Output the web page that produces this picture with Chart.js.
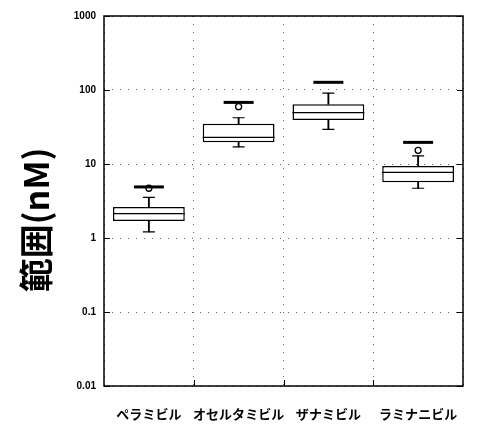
<!DOCTYPE html>
<html>
<head>
<meta charset="utf-8">
<script src="https://cdn.jsdelivr.net/npm/chart.js@4"></script>
<style>
  html, body { margin: 0; padding: 0; background: #fff; }
  #wrap { width: 484px; height: 425px; }
</style>
</head>
<body>
<div id="wrap"><canvas id="c" width="484" height="425"></canvas></div>
<script>
const categories = ['ペラミビル', 'オセルタミビル', 'ザナミビル', 'ラミナニビル'];
const whiskerLow  = [1.21, 17.0, 29.4, 4.7];
const q1          = [1.70, 19.7, 39.3, 5.66];
const median      = [2.13, 22.9, 49.4, 7.7];
const q3          = [2.62, 35.1, 64.1, 9.4];
const whiskerHigh = [3.55, 42.2, 91.0, 12.9];
const outliers    = [4.7, 59.5, null, 15.3];
const markValue   = [4.9, 68.0, 127.0, 19.6];
const yTicks      = [0.01, 0.1, 1, 10, 100, 1000];
const yTitle      = '範囲(nM)';

const boxRanges   = categories.map((_, i) => [q1[i], q3[i]]);
const lowerWhisk  = categories.map((_, i) => [whiskerLow[i], q1[i]]);
const upperWhisk  = categories.map((_, i) => [q3[i], whiskerHigh[i]]);

const frame = {
  id: 'frame',
  afterDraw(chart) {
    const { ctx, chartArea: a, scales } = chart;
    ctx.save();
    ctx.strokeStyle = '#000';
    ctx.lineWidth = 1.5;
    ctx.strokeRect(a.left, a.top, a.right - a.left, a.bottom - a.top);
    ctx.lineWidth = 1;
    const y = scales.y;
    yTicks.forEach(v => {
      const py = Math.round(y.getPixelForValue(v)) + 0.5;
      ctx.beginPath();
      ctx.moveTo(a.left, py); ctx.lineTo(a.left + 6, py);
      ctx.moveTo(a.right, py); ctx.lineTo(a.right - 6, py);
      ctx.stroke();
    });
    const x = scales.x;
    for (let i = 1; i < categories.length; i++) {
      const px = Math.round((x.getPixelForValue(i - 1) + x.getPixelForValue(i)) / 2) + 0.5;
      ctx.beginPath();
      ctx.moveTo(px, a.bottom); ctx.lineTo(px, a.bottom - 6);
      ctx.stroke();
    }
    // y axis title
    ctx.translate(36, (a.top + a.bottom) / 2 + 19);
    ctx.rotate(-Math.PI / 2);
    ctx.fillStyle = '#000';
    ctx.font = 'bold 34px "Noto Sans CJK JP"';
    ctx.textAlign = 'center';
    ctx.textBaseline = 'middle';
    ctx.fillText(yTitle, 0, 0);
    ctx.restore();
  }
};

const pointDs = (data, radius, width, style, extra) => Object.assign({
  type: 'line', data, showLine: false, pointStyle: style,
  pointRadius: radius, pointHoverRadius: radius,
  borderColor: '#000', pointBorderColor: '#000', pointBorderWidth: width,
  pointBackgroundColor: '#fff', borderWidth: width
}, extra || {});

new Chart(document.getElementById('c'), {
  type: 'bar',
  data: {
    labels: categories,
    datasets: [
      pointDs(median, 36, 1.2, 'line'),
      pointDs(whiskerHigh, 6, 1.2, 'line'),
      pointDs(whiskerLow, 6, 1.2, 'line'),
      pointDs(markValue, 15, 3, 'line'),
      pointDs(outliers, 3, 1.3, 'circle'),
      {
        type: 'bar', data: boxRanges, grouped: false,
        backgroundColor: '#fff', borderColor: '#000', borderWidth: 1.5,
        borderSkipped: false, barPercentage: 0.8, categoryPercentage: 1
      },
      {
        type: 'bar', data: lowerWhisk, grouped: false,
        backgroundColor: '#000', borderWidth: 0, barThickness: 1.2
      },
      {
        type: 'bar', data: upperWhisk, grouped: false,
        backgroundColor: '#000', borderWidth: 0, barThickness: 1.2
      }
    ]
  },
  options: {
    responsive: false,
    animation: false,
    events: [],
    layout: { autoPadding: false, padding: { top: 16, right: 21, left: 0, bottom: 0 } },
    plugins: { legend: { display: false }, tooltip: { enabled: false } },
    scales: {
      x: {
        type: 'category',
        offset: true,
        border: { display: false, dash: [1, 7] },
        grid: { offset: true, drawTicks: false, color: '#666', lineWidth: 1 },
        ticks: { color: '#000', padding: 20, autoSkip: false, maxRotation: 0,
                 font: { family: '"Noto Sans CJK JP"', size: 13, weight: 'bold' } },
        afterFit(s) { s.height = 39; }
      },
      y: {
        type: 'logarithmic',
        min: 0.01, max: 1000,
        border: { display: false, dash: [1, 7] },
        afterBuildTicks(s) { s.ticks = yTicks.map(v => ({ value: v, major: true })); },
        grid: { drawTicks: false, color: '#666', lineWidth: 1 },
        ticks: {
          color: '#000', padding: 8,
          font: { family: '"Liberation Sans"', size: 10, weight: 'bold' },
          callback: v => String(v)
        },
        afterFit(s) { s.width = 104; }
      }
    }
  },
  plugins: [frame]
});
</script>
</body>
</html>
